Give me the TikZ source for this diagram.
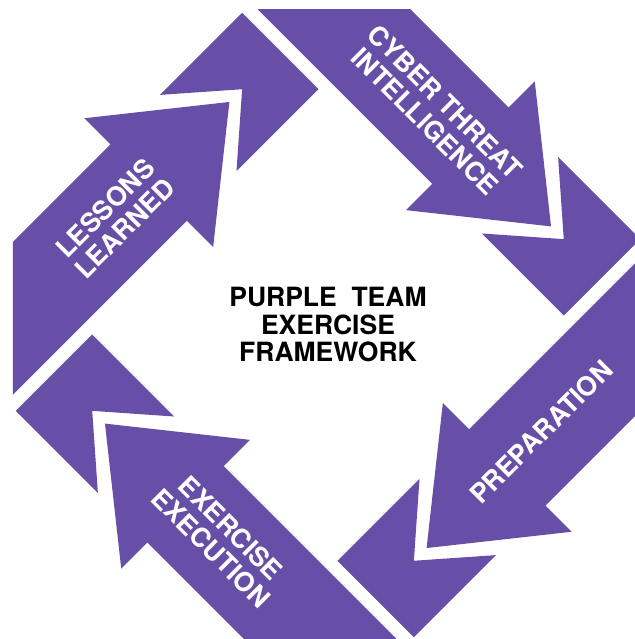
\documentclass[tikz,border=0pt]{standalone}
\usepackage{fontspec}
\setmainfont{TeX Gyre Heros}
\definecolor{ppl}{HTML}{674EA7}
\begin{document}
\begin{tikzpicture}[x=1pt,y=1pt,
  piece/.style={fill=ppl, draw=none},
  lbl/.style={text=white, font=\fontsize{26.5}{28}\selectfont\bfseries, align=center, inner sep=0pt},
  ctr/.style={text=black, font=\fontsize{26.5}{27.5}\selectfont\bfseries, align=center}]
\useasboundingbox (-328,-314) rectangle (306,325);
\begin{scope}
\clip (-315,-315) rectangle (315,315);
\foreach \k/\name/\lab/\rot in {0/ll/{LESSONS\\LEARNED}/45, 1/cti/{CYBER THREAT\\INTELLIGENCE}/-45, 2/prep/{PREPARATION}/45, 3/ee/{EXERCISE\\EXECUTION}/-45} {
  \begin{scope}[rotate=-90*\k]
  \begin{scope}[shift={(-199,199)},rotate=45]
    \fill[piece] (-420,0) -- (-26,0) -- (-26,37) -- (88,-54) -- (-26,-145) -- (-26,-108) -- (-420,-108) -- cycle;
    \fill[piece] (44,0) -- (160,0) -- (160,-108) -- (44,-108) -- (106,-54) -- cycle;
    \node[lbl, rotate=\rot] (\name) at (-75,-55) {\lab};
  \end{scope}
  \end{scope}
}
\end{scope}
\node[ctr] (title) at (0,0) {PURPLE\ \ TEAM\\EXERCISE\\FRAMEWORK};
\end{tikzpicture}
\end{document}
